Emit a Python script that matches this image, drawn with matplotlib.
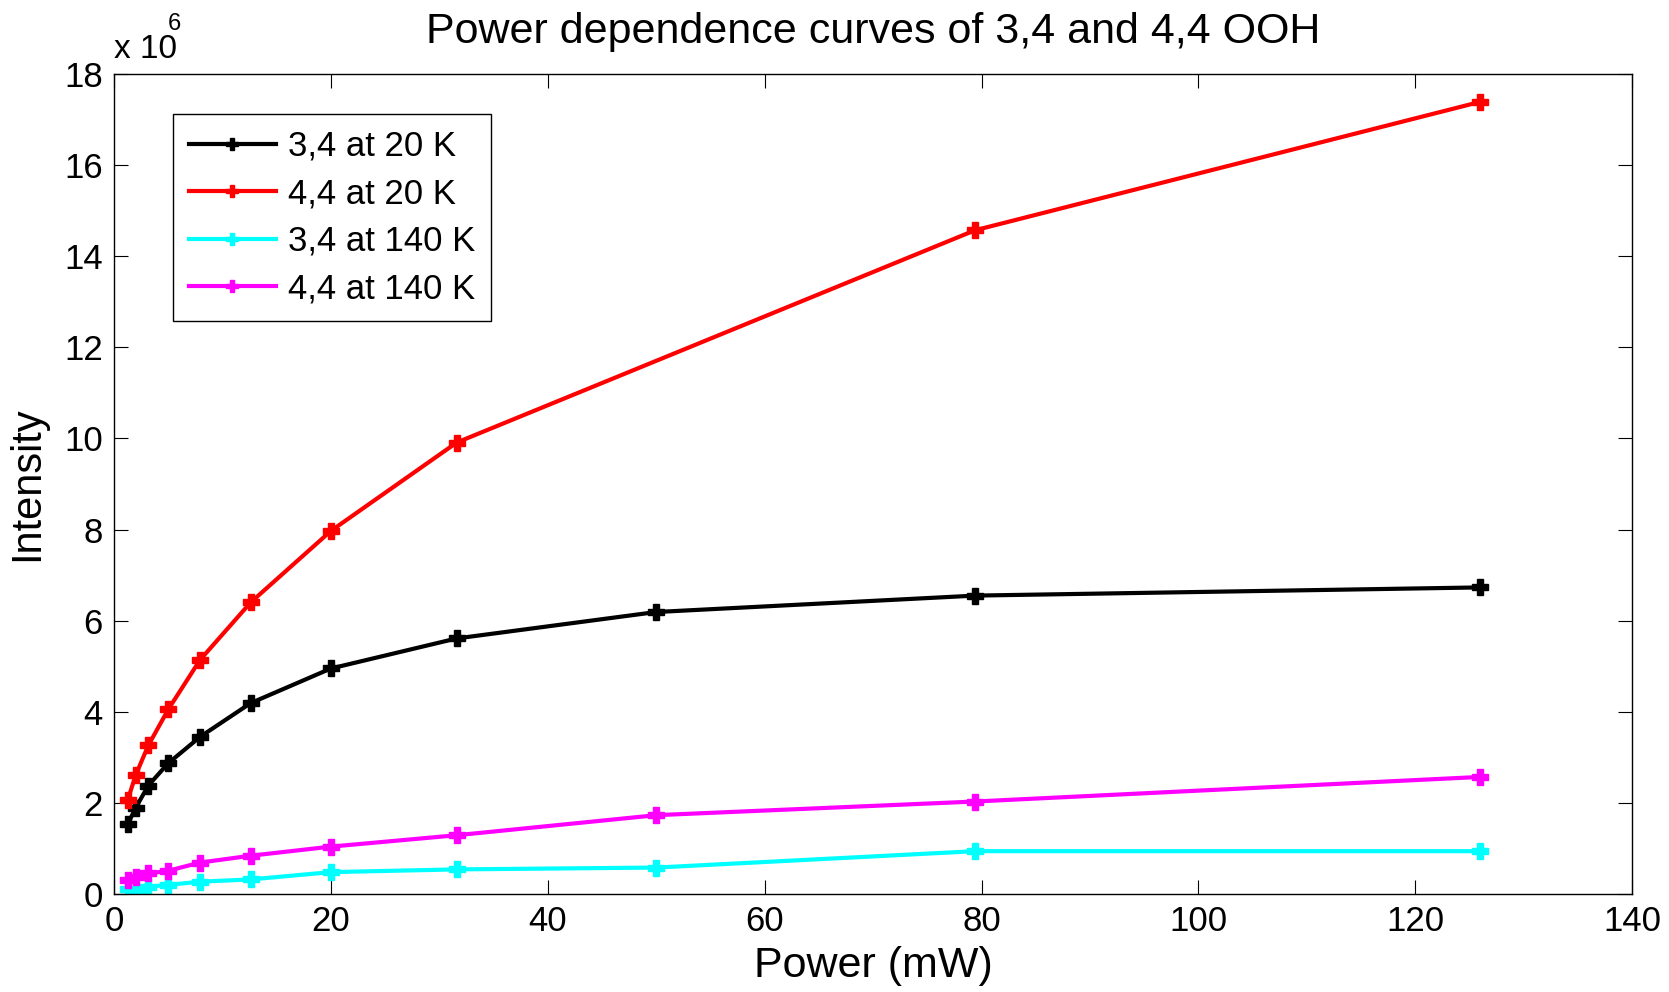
import matplotlib
matplotlib.use("Agg")
import matplotlib.pyplot as plt
from matplotlib import font_manager

power_a = [1.26, 2.0, 3.16, 5.0, 7.94, 12.6, 20.0, 31.6, 50.0, 79.4, 126.0]
power_b = [1.26, 2.0, 3.16, 5.0, 7.94, 12.6, 20.0, 31.6, 79.4, 126.0]

black_34_20K = [1.53, 1.89, 2.38, 2.87, 3.45, 4.19, 4.95, 5.61, 6.19, 6.55, 6.73]
red_44_20K = [2.06, 2.61, 3.26, 4.05, 5.14, 6.40, 7.97, 9.91, 14.57, 17.39]
cyan_34_140K = [0.12, 0.07, 0.16, 0.20, 0.27, 0.32, 0.48, 0.54, 0.58, 0.94, 0.94]
mag_44_140K = [0.31, 0.38, 0.45, 0.51, 0.69, 0.84, 1.04, 1.29, 1.73, 2.03, 2.57]

labels = ["3,4 at 20 K", "4,4 at 20 K", "3,4 at 140 K", "4,4 at 140 K"]
x_ticks = [0, 20, 40, 60, 80, 100, 120, 140]
y_ticks = [0, 2, 4, 6, 8, 10, 12, 14, 16, 18]

plt.rcParams['font.family'] = ['Liberation Sans', 'DejaVu Sans']

fig = plt.figure(figsize=(16.69, 9.92), dpi=100)
ax = fig.add_axes([0.0683, 0.0988, 0.978 - 0.0683, 0.9254 - 0.0988])

series = [
    (power_a, black_34_20K, 'black'),
    (power_b, red_44_20K, 'red'),
    (power_a, cyan_34_140K, 'cyan'),
    (power_a, mag_44_140K, 'magenta'),
]
for (x, y, c), lab in zip(series, labels):
    ax.plot(x, y, color=c, lw=3.0, marker='P', ms=12, mec=c, mfc=c, label=lab)

ax.set_xlim(0, 140)
ax.set_ylim(0, 18)
ax.set_xticks(x_ticks)
ax.set_yticks(y_ticks)
ax.tick_params(direction='in', length=10, width=0.8, labelsize=25, top=True, right=True, pad=8)
for s in ax.spines.values():
    s.set_linewidth(1.0)

ax.set_xlabel("Power (mW)", fontsize=31, labelpad=6)
ax.set_ylabel("Intensity", fontsize=30, labelpad=12)

names = {f.name for f in font_manager.fontManager.ttflist}
title_family = ['Liberation Sans Narrow', 'Liberation Sans'] if 'Liberation Sans Narrow' in names else ['Liberation Sans']
ax.set_title("Power dependence curves of 3,4 and 4,4 OOH", fontsize=31, family=title_family, pad=22)

fig.text(114 / 1669, 1 - 58 / 992, "x 10", fontsize=24, ha='left', va='baseline')
fig.text(168 / 1669, 1 - 30 / 992, "6", fontsize=17, ha='left', va='baseline')

leg = ax.legend(loc='upper left', bbox_to_anchor=(0.039, 0.951), fontsize=25, frameon=True,
                fancybox=False, edgecolor='black', framealpha=1, borderpad=0.45,
                labelspacing=0.42, handlelength=2.5, handletextpad=0.35, borderaxespad=0)
leg.get_frame().set_linewidth(1.0)
for h in leg.legend_handles:
    h.set_markersize(9)

fig.savefig("out.png", dpi=100, facecolor='white')
